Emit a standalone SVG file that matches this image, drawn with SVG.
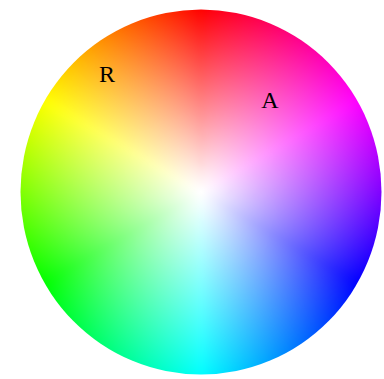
<svg xmlns="http://www.w3.org/2000/svg" xmlns:xlink="http://www.w3.org/1999/xlink" width="384" height="379" viewBox="0 0 384 379">
<defs>
<path id="w" d="M0,0 L0,-195 A195,195 0 0 1 8.50,-194.81 Z"/>
<clipPath id="clip"><circle r="180.5"/></clipPath>
<filter id="soft" x="-0.1" y="-0.1" width="1.2" height="1.2" color-interpolation-filters="sRGB"><feGaussianBlur stdDeviation="2.5"/></filter>
<radialGradient id="sat" cx="0.5" cy="0.5" r="0.5">
<stop offset="0" stop-color="#fff" stop-opacity="1"/>
<stop offset="0.15" stop-color="#fff" stop-opacity="0.85"/>
<stop offset="1" stop-color="#fff" stop-opacity="0"/>
</radialGradient>
<style>text{font-family:"Liberation Serif","Times New Roman",serif;font-size:24px;fill:#000;text-anchor:middle}</style>
</defs>
<rect width="384" height="379" fill="#fff"/>
<g id="wheel" transform="translate(201 192) scale(1 1.011)" clip-path="url(#clip)">
<g filter="url(#soft)">
<use href="#w" transform="rotate(0)" fill="hsl(359,100%,50%)"/>
<use href="#w" transform="rotate(2)" fill="hsl(357,100%,50%)"/>
<use href="#w" transform="rotate(4)" fill="hsl(355,100%,50%)"/>
<use href="#w" transform="rotate(6)" fill="hsl(353,100%,50%)"/>
<use href="#w" transform="rotate(8)" fill="hsl(351,100%,50%)"/>
<use href="#w" transform="rotate(10)" fill="hsl(349,100%,50%)"/>
<use href="#w" transform="rotate(12)" fill="hsl(347,100%,50%)"/>
<use href="#w" transform="rotate(14)" fill="hsl(345,100%,50%)"/>
<use href="#w" transform="rotate(16)" fill="hsl(343,100%,50%)"/>
<use href="#w" transform="rotate(18)" fill="hsl(341,100%,50%)"/>
<use href="#w" transform="rotate(20)" fill="hsl(339,100%,50%)"/>
<use href="#w" transform="rotate(22)" fill="hsl(337,100%,50%)"/>
<use href="#w" transform="rotate(24)" fill="hsl(335,100%,50%)"/>
<use href="#w" transform="rotate(26)" fill="hsl(333,100%,50%)"/>
<use href="#w" transform="rotate(28)" fill="hsl(331,100%,50%)"/>
<use href="#w" transform="rotate(30)" fill="hsl(329,100%,50%)"/>
<use href="#w" transform="rotate(32)" fill="hsl(327,100%,50%)"/>
<use href="#w" transform="rotate(34)" fill="hsl(325,100%,50%)"/>
<use href="#w" transform="rotate(36)" fill="hsl(323,100%,50%)"/>
<use href="#w" transform="rotate(38)" fill="hsl(321,100%,50%)"/>
<use href="#w" transform="rotate(40)" fill="hsl(319,100%,50%)"/>
<use href="#w" transform="rotate(42)" fill="hsl(317,100%,50%)"/>
<use href="#w" transform="rotate(44)" fill="hsl(315,100%,50%)"/>
<use href="#w" transform="rotate(46)" fill="hsl(313,100%,50%)"/>
<use href="#w" transform="rotate(48)" fill="hsl(311,100%,50%)"/>
<use href="#w" transform="rotate(50)" fill="hsl(309,100%,50%)"/>
<use href="#w" transform="rotate(52)" fill="hsl(307,100%,50%)"/>
<use href="#w" transform="rotate(54)" fill="hsl(305,100%,50%)"/>
<use href="#w" transform="rotate(56)" fill="hsl(303,100%,50%)"/>
<use href="#w" transform="rotate(58)" fill="hsl(301,100%,50%)"/>
<use href="#w" transform="rotate(60)" fill="hsl(299,100%,50%)"/>
<use href="#w" transform="rotate(62)" fill="hsl(297,100%,50%)"/>
<use href="#w" transform="rotate(64)" fill="hsl(295,100%,50%)"/>
<use href="#w" transform="rotate(66)" fill="hsl(293,100%,50%)"/>
<use href="#w" transform="rotate(68)" fill="hsl(291,100%,50%)"/>
<use href="#w" transform="rotate(70)" fill="hsl(289,100%,50%)"/>
<use href="#w" transform="rotate(72)" fill="hsl(287,100%,50%)"/>
<use href="#w" transform="rotate(74)" fill="hsl(285,100%,50%)"/>
<use href="#w" transform="rotate(76)" fill="hsl(283,100%,50%)"/>
<use href="#w" transform="rotate(78)" fill="hsl(281,100%,50%)"/>
<use href="#w" transform="rotate(80)" fill="hsl(279,100%,50%)"/>
<use href="#w" transform="rotate(82)" fill="hsl(277,100%,50%)"/>
<use href="#w" transform="rotate(84)" fill="hsl(275,100%,50%)"/>
<use href="#w" transform="rotate(86)" fill="hsl(273,100%,50%)"/>
<use href="#w" transform="rotate(88)" fill="hsl(271,100%,50%)"/>
<use href="#w" transform="rotate(90)" fill="hsl(269,100%,50%)"/>
<use href="#w" transform="rotate(92)" fill="hsl(267,100%,50%)"/>
<use href="#w" transform="rotate(94)" fill="hsl(265,100%,50%)"/>
<use href="#w" transform="rotate(96)" fill="hsl(263,100%,50%)"/>
<use href="#w" transform="rotate(98)" fill="hsl(261,100%,50%)"/>
<use href="#w" transform="rotate(100)" fill="hsl(259,100%,50%)"/>
<use href="#w" transform="rotate(102)" fill="hsl(257,100%,50%)"/>
<use href="#w" transform="rotate(104)" fill="hsl(255,100%,50%)"/>
<use href="#w" transform="rotate(106)" fill="hsl(253,100%,50%)"/>
<use href="#w" transform="rotate(108)" fill="hsl(251,100%,50%)"/>
<use href="#w" transform="rotate(110)" fill="hsl(249,100%,50%)"/>
<use href="#w" transform="rotate(112)" fill="hsl(247,100%,50%)"/>
<use href="#w" transform="rotate(114)" fill="hsl(245,100%,50%)"/>
<use href="#w" transform="rotate(116)" fill="hsl(243,100%,50%)"/>
<use href="#w" transform="rotate(118)" fill="hsl(241,100%,50%)"/>
<use href="#w" transform="rotate(120)" fill="hsl(239,100%,50%)"/>
<use href="#w" transform="rotate(122)" fill="hsl(237,100%,50%)"/>
<use href="#w" transform="rotate(124)" fill="hsl(235,100%,50%)"/>
<use href="#w" transform="rotate(126)" fill="hsl(233,100%,50%)"/>
<use href="#w" transform="rotate(128)" fill="hsl(231,100%,50%)"/>
<use href="#w" transform="rotate(130)" fill="hsl(229,100%,50%)"/>
<use href="#w" transform="rotate(132)" fill="hsl(227,100%,50%)"/>
<use href="#w" transform="rotate(134)" fill="hsl(225,100%,50%)"/>
<use href="#w" transform="rotate(136)" fill="hsl(223,100%,50%)"/>
<use href="#w" transform="rotate(138)" fill="hsl(221,100%,50%)"/>
<use href="#w" transform="rotate(140)" fill="hsl(219,100%,50%)"/>
<use href="#w" transform="rotate(142)" fill="hsl(217,100%,50%)"/>
<use href="#w" transform="rotate(144)" fill="hsl(215,100%,50%)"/>
<use href="#w" transform="rotate(146)" fill="hsl(213,100%,50%)"/>
<use href="#w" transform="rotate(148)" fill="hsl(211,100%,50%)"/>
<use href="#w" transform="rotate(150)" fill="hsl(209,100%,50%)"/>
<use href="#w" transform="rotate(152)" fill="hsl(207,100%,50%)"/>
<use href="#w" transform="rotate(154)" fill="hsl(205,100%,50%)"/>
<use href="#w" transform="rotate(156)" fill="hsl(203,100%,50%)"/>
<use href="#w" transform="rotate(158)" fill="hsl(201,100%,50%)"/>
<use href="#w" transform="rotate(160)" fill="hsl(199,100%,50%)"/>
<use href="#w" transform="rotate(162)" fill="hsl(197,100%,50%)"/>
<use href="#w" transform="rotate(164)" fill="hsl(195,100%,50%)"/>
<use href="#w" transform="rotate(166)" fill="hsl(193,100%,50%)"/>
<use href="#w" transform="rotate(168)" fill="hsl(191,100%,50%)"/>
<use href="#w" transform="rotate(170)" fill="hsl(189,100%,50%)"/>
<use href="#w" transform="rotate(172)" fill="hsl(187,100%,50%)"/>
<use href="#w" transform="rotate(174)" fill="hsl(185,100%,50%)"/>
<use href="#w" transform="rotate(176)" fill="hsl(183,100%,50%)"/>
<use href="#w" transform="rotate(178)" fill="hsl(181,100%,50%)"/>
<use href="#w" transform="rotate(180)" fill="hsl(179,100%,50%)"/>
<use href="#w" transform="rotate(182)" fill="hsl(177,100%,50%)"/>
<use href="#w" transform="rotate(184)" fill="hsl(175,100%,50%)"/>
<use href="#w" transform="rotate(186)" fill="hsl(173,100%,50%)"/>
<use href="#w" transform="rotate(188)" fill="hsl(171,100%,50%)"/>
<use href="#w" transform="rotate(190)" fill="hsl(169,100%,50%)"/>
<use href="#w" transform="rotate(192)" fill="hsl(167,100%,50%)"/>
<use href="#w" transform="rotate(194)" fill="hsl(165,100%,50%)"/>
<use href="#w" transform="rotate(196)" fill="hsl(163,100%,50%)"/>
<use href="#w" transform="rotate(198)" fill="hsl(161,100%,50%)"/>
<use href="#w" transform="rotate(200)" fill="hsl(159,100%,50%)"/>
<use href="#w" transform="rotate(202)" fill="hsl(157,100%,50%)"/>
<use href="#w" transform="rotate(204)" fill="hsl(155,100%,50%)"/>
<use href="#w" transform="rotate(206)" fill="hsl(153,100%,50%)"/>
<use href="#w" transform="rotate(208)" fill="hsl(151,100%,50%)"/>
<use href="#w" transform="rotate(210)" fill="hsl(149,100%,50%)"/>
<use href="#w" transform="rotate(212)" fill="hsl(147,100%,50%)"/>
<use href="#w" transform="rotate(214)" fill="hsl(145,100%,50%)"/>
<use href="#w" transform="rotate(216)" fill="hsl(143,100%,50%)"/>
<use href="#w" transform="rotate(218)" fill="hsl(141,100%,50%)"/>
<use href="#w" transform="rotate(220)" fill="hsl(139,100%,50%)"/>
<use href="#w" transform="rotate(222)" fill="hsl(137,100%,50%)"/>
<use href="#w" transform="rotate(224)" fill="hsl(135,100%,50%)"/>
<use href="#w" transform="rotate(226)" fill="hsl(133,100%,50%)"/>
<use href="#w" transform="rotate(228)" fill="hsl(131,100%,50%)"/>
<use href="#w" transform="rotate(230)" fill="hsl(129,100%,50%)"/>
<use href="#w" transform="rotate(232)" fill="hsl(127,100%,50%)"/>
<use href="#w" transform="rotate(234)" fill="hsl(125,100%,50%)"/>
<use href="#w" transform="rotate(236)" fill="hsl(123,100%,50%)"/>
<use href="#w" transform="rotate(238)" fill="hsl(121,100%,50%)"/>
<use href="#w" transform="rotate(240)" fill="hsl(119,100%,50%)"/>
<use href="#w" transform="rotate(242)" fill="hsl(117,100%,50%)"/>
<use href="#w" transform="rotate(244)" fill="hsl(115,100%,50%)"/>
<use href="#w" transform="rotate(246)" fill="hsl(113,100%,50%)"/>
<use href="#w" transform="rotate(248)" fill="hsl(111,100%,50%)"/>
<use href="#w" transform="rotate(250)" fill="hsl(109,100%,50%)"/>
<use href="#w" transform="rotate(252)" fill="hsl(107,100%,50%)"/>
<use href="#w" transform="rotate(254)" fill="hsl(105,100%,50%)"/>
<use href="#w" transform="rotate(256)" fill="hsl(103,100%,50%)"/>
<use href="#w" transform="rotate(258)" fill="hsl(101,100%,50%)"/>
<use href="#w" transform="rotate(260)" fill="hsl(99,100%,50%)"/>
<use href="#w" transform="rotate(262)" fill="hsl(97,100%,50%)"/>
<use href="#w" transform="rotate(264)" fill="hsl(95,100%,50%)"/>
<use href="#w" transform="rotate(266)" fill="hsl(93,100%,50%)"/>
<use href="#w" transform="rotate(268)" fill="hsl(91,100%,50%)"/>
<use href="#w" transform="rotate(270)" fill="hsl(89,100%,50%)"/>
<use href="#w" transform="rotate(272)" fill="hsl(87,100%,50%)"/>
<use href="#w" transform="rotate(274)" fill="hsl(85,100%,50%)"/>
<use href="#w" transform="rotate(276)" fill="hsl(83,100%,50%)"/>
<use href="#w" transform="rotate(278)" fill="hsl(81,100%,50%)"/>
<use href="#w" transform="rotate(280)" fill="hsl(79,100%,50%)"/>
<use href="#w" transform="rotate(282)" fill="hsl(77,100%,50%)"/>
<use href="#w" transform="rotate(284)" fill="hsl(75,100%,50%)"/>
<use href="#w" transform="rotate(286)" fill="hsl(73,100%,50%)"/>
<use href="#w" transform="rotate(288)" fill="hsl(71,100%,50%)"/>
<use href="#w" transform="rotate(290)" fill="hsl(69,100%,50%)"/>
<use href="#w" transform="rotate(292)" fill="hsl(67,100%,50%)"/>
<use href="#w" transform="rotate(294)" fill="hsl(65,100%,50%)"/>
<use href="#w" transform="rotate(296)" fill="hsl(63,100%,50%)"/>
<use href="#w" transform="rotate(298)" fill="hsl(61,100%,50%)"/>
<use href="#w" transform="rotate(300)" fill="hsl(59,100%,50%)"/>
<use href="#w" transform="rotate(302)" fill="hsl(57,100%,50%)"/>
<use href="#w" transform="rotate(304)" fill="hsl(55,100%,50%)"/>
<use href="#w" transform="rotate(306)" fill="hsl(53,100%,50%)"/>
<use href="#w" transform="rotate(308)" fill="hsl(51,100%,50%)"/>
<use href="#w" transform="rotate(310)" fill="hsl(49,100%,50%)"/>
<use href="#w" transform="rotate(312)" fill="hsl(47,100%,50%)"/>
<use href="#w" transform="rotate(314)" fill="hsl(45,100%,50%)"/>
<use href="#w" transform="rotate(316)" fill="hsl(43,100%,50%)"/>
<use href="#w" transform="rotate(318)" fill="hsl(41,100%,50%)"/>
<use href="#w" transform="rotate(320)" fill="hsl(39,100%,50%)"/>
<use href="#w" transform="rotate(322)" fill="hsl(37,100%,50%)"/>
<use href="#w" transform="rotate(324)" fill="hsl(35,100%,50%)"/>
<use href="#w" transform="rotate(326)" fill="hsl(33,100%,50%)"/>
<use href="#w" transform="rotate(328)" fill="hsl(31,100%,50%)"/>
<use href="#w" transform="rotate(330)" fill="hsl(29,100%,50%)"/>
<use href="#w" transform="rotate(332)" fill="hsl(27,100%,50%)"/>
<use href="#w" transform="rotate(334)" fill="hsl(25,100%,50%)"/>
<use href="#w" transform="rotate(336)" fill="hsl(23,100%,50%)"/>
<use href="#w" transform="rotate(338)" fill="hsl(21,100%,50%)"/>
<use href="#w" transform="rotate(340)" fill="hsl(19,100%,50%)"/>
<use href="#w" transform="rotate(342)" fill="hsl(17,100%,50%)"/>
<use href="#w" transform="rotate(344)" fill="hsl(15,100%,50%)"/>
<use href="#w" transform="rotate(346)" fill="hsl(13,100%,50%)"/>
<use href="#w" transform="rotate(348)" fill="hsl(11,100%,50%)"/>
<use href="#w" transform="rotate(350)" fill="hsl(9,100%,50%)"/>
<use href="#w" transform="rotate(352)" fill="hsl(7,100%,50%)"/>
<use href="#w" transform="rotate(354)" fill="hsl(5,100%,50%)"/>
<use href="#w" transform="rotate(356)" fill="hsl(3,100%,50%)"/>
<use href="#w" transform="rotate(358)" fill="hsl(1,100%,50%)"/>
</g>
<circle r="181" fill="url(#sat)"/>
</g>
<g id="labels">
<text x="107" y="82">R</text>
<text x="270" y="108">A</text>
</g>
</svg>
